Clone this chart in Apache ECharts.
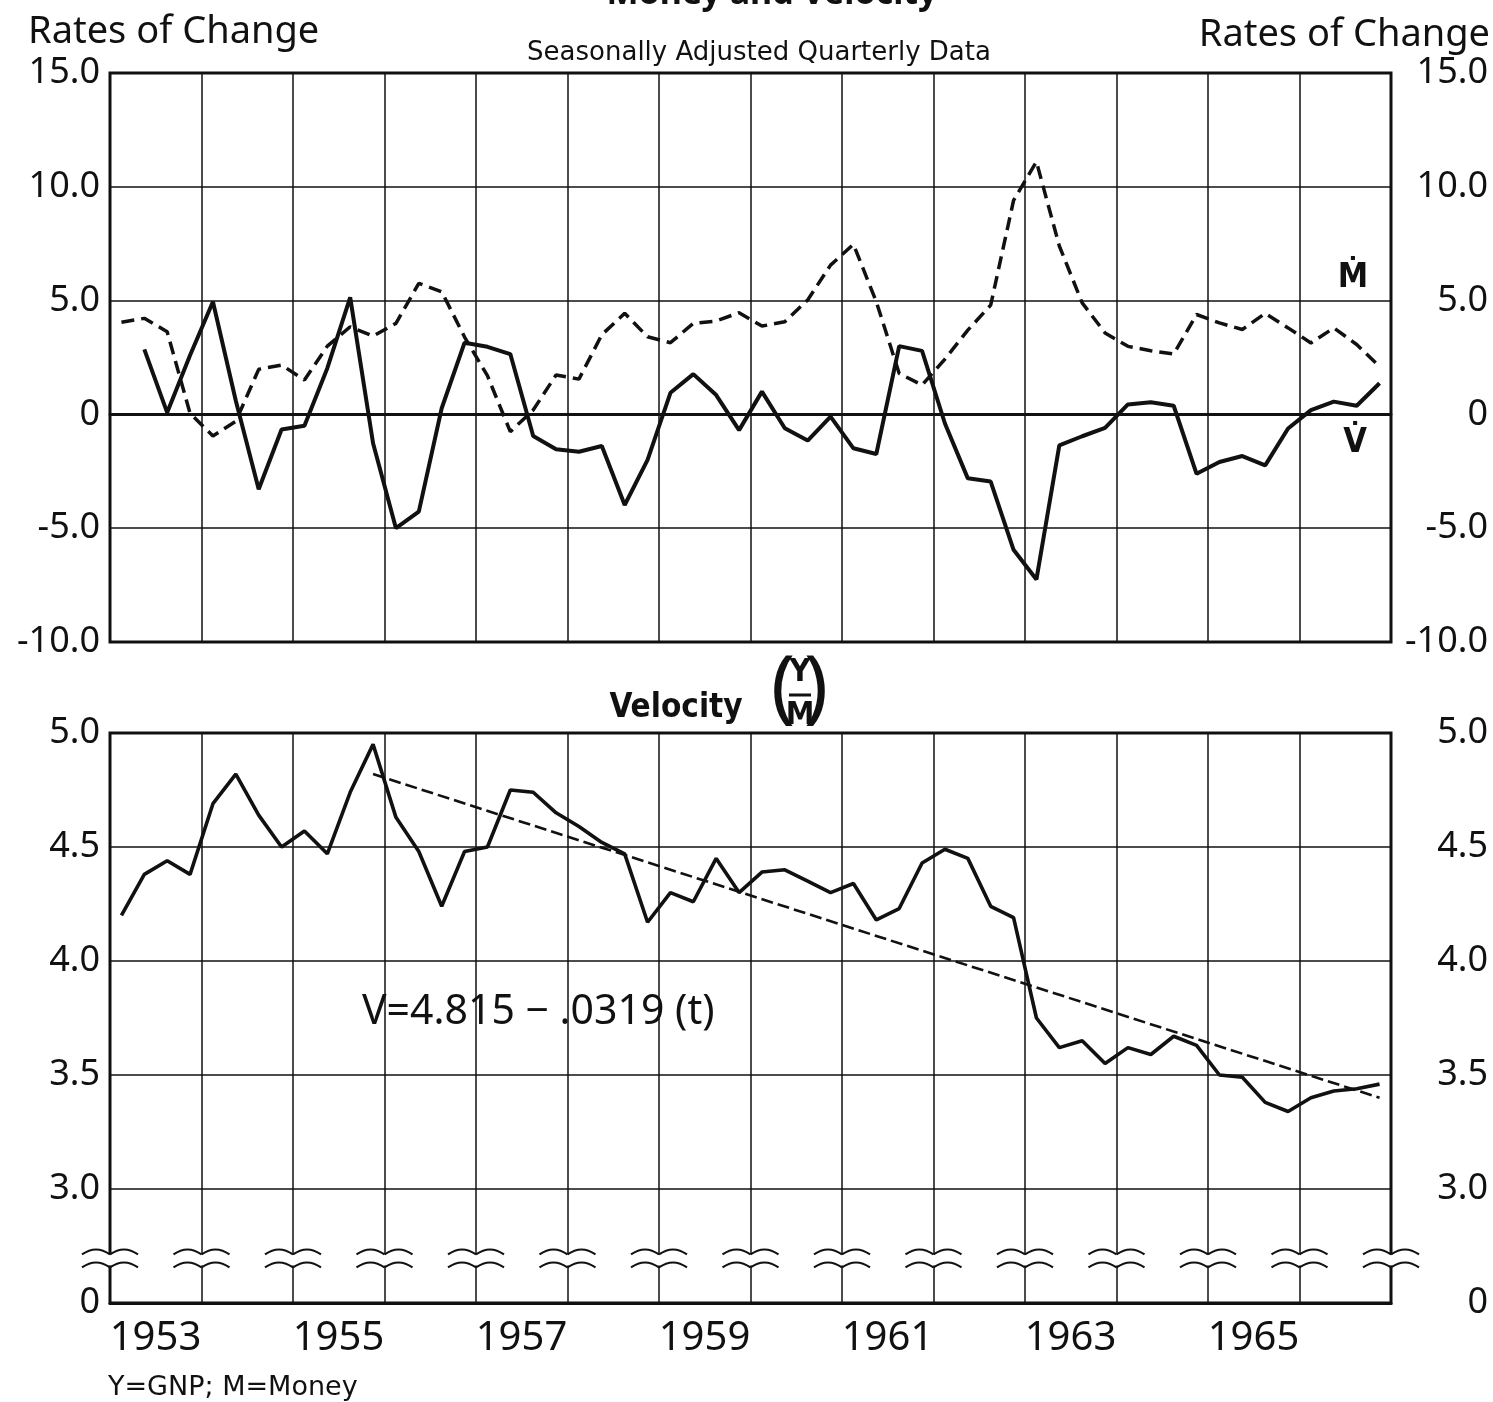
<!DOCTYPE html>
<html>
<head>
<meta charset="utf-8">
<script src="https://cdn.jsdelivr.net/npm/echarts@6/dist/echarts.min.js"></script>
<style>
  html, body { margin: 0; padding: 0; background: #fff; }
  #chart { width: 1493px; height: 1402px; }
</style>
</head>
<body>
<div id="chart"></div>
<script>
// quarterly data, 1953 Q1 .. 1966 Q4
const firstYear = 1953;
const lastYear = 1966;
const yearLabels = ['1953', '1955', '1957', '1959', '1961', '1963', '1965'];

const rateTicks = [-10, -5, 0, 5, 10, 15];
const rateTickLabels = ['-10.0', '-5.0', '0', '5.0', '10.0', '15.0'];
const velocityTicks = [2.5, 3.0, 3.5, 4.0, 4.5, 5.0];
const velocityTickLabels = ['0', '3.0', '3.5', '4.0', '4.5', '5.0'];

// rate of change of money (M dot), dashed
const moneyRate = [
  4.05, 4.22, 3.63, 0.05,
  -0.95, -0.3, 1.98, 2.17,
  1.51, 3.0, 3.85, 3.44,
  4.0, 5.76, 5.39, 3.4,
  1.7, -0.76, 0.19, 1.73,
  1.55, 3.5, 4.44, 3.41,
  3.15, 4.0, 4.1, 4.47,
  3.88, 4.07, 5.03, 6.56,
  7.47, 4.95, 1.8, 1.29,
  2.43, 3.7, 4.8, 9.4,
  11.1, 7.4, 4.9, 3.58,
  2.99, 2.8, 2.65, 4.39,
  4.02, 3.73, 4.44, 3.8,
  3.14, 3.8, 3.07, 2.1
];

// rate of change of velocity (V dot), solid; starts 1953 Q2
const velocityRate = [
  null, 2.86, 0.08, 2.6,
  4.95, 0.6, -3.29, -0.66,
  -0.5, 2.03, 5.14, -1.27,
  -5.0, -4.27, 0.27, 3.15,
  2.97, 2.65, -0.95, -1.53,
  -1.64, -1.39, -3.98, -2.0,
  0.95, 1.77, 0.85, -0.69,
  1.0, -0.61, -1.15, -0.1,
  -1.49, -1.74, 3.0, 2.79,
  -0.4, -2.81, -2.95, -5.95,
  -7.25, -1.36, -0.96, -0.59,
  0.44, 0.53, 0.38, -2.61,
  -2.09, -1.83, -2.24, -0.62,
  0.19, 0.56, 0.38, 1.37
];

// velocity Y/M
const velocity = [
  4.20, 4.38, 4.44, 4.38,
  4.69, 4.82, 4.64, 4.50,
  4.57, 4.47, 4.74, 4.95,
  4.63, 4.48, 4.24, 4.48,
  4.50, 4.75, 4.74, 4.65,
  4.59, 4.52, 4.47, 4.17,
  4.30, 4.26, 4.45, 4.30,
  4.39, 4.40, 4.35, 4.30,
  4.34, 4.18, 4.23, 4.43,
  4.49, 4.45, 4.24, 4.19,
  3.75, 3.62, 3.65, 3.55,
  3.62, 3.59, 3.67, 3.63,
  3.50, 3.49, 3.38, 3.34,
  3.40, 3.43, 3.44, 3.46
];

// trend V = 4.815 - .0319 (t), end points (1955 Q4 .. 1966 Q4)
const trendQuarters = [11, 55];
const trendValues = [4.82, 3.40];

const breakLevel = 2.70; // where the broken-axis marks sit

const font = 'Noto Sans';
const ink = '#111';

function qx(i) { return firstYear + (i + 0.5) / 4; }
function pairs(arr) {
  return arr.map((v, i) => [qx(i), v]).filter(p => p[1] !== null);
}
function tickText(ticks, labels) {
  return v => {
    const k = ticks.findIndex(t => Math.abs(t - v) < 1e-6);
    return k < 0 ? '' : labels[k];
  };
}

const breakYears = [];
for (let y = firstYear; y <= lastYear + 1; y++) breakYears.push([y, breakLevel]);

const chart = echarts.init(document.getElementById('chart'));

function xAxisBase(gridIndex) {
  return {
    type: 'value', gridIndex: gridIndex,
    min: firstYear, max: lastYear + 1, interval: 1,
    axisTick: { show: false },
    splitLine: { show: true, lineStyle: { color: ink, width: 1.5 } },
    axisLine: { show: true, lineStyle: { color: ink, width: 3 } }
  };
}
function yAxisBase(gridIndex, pos, min, max, interval, fmt, right) {
  return {
    type: 'value', gridIndex: gridIndex, position: pos,
    min: min, max: max, interval: interval,
    axisLine: { show: false },
    axisTick: { show: false },
    splitLine: { show: !right, lineStyle: { color: ink, width: 1.5 } },
    axisLabel: {
      formatter: fmt,
      fontFamily: font, fontSize: 36, color: ink,
      margin: right ? 97 : 10,
      align: 'right'
    }
  };
}

const rateFmt = tickText(rateTicks, rateTickLabels);
const velFmt = tickText(velocityTicks, velocityTickLabels);

const option = {
  backgroundColor: '#fff',
  animation: false,
  grid: [
    { left: 110, right: 102, top: 73, height: 569, show: true, borderColor: ink, borderWidth: 3, backgroundColor: 'transparent' },
    { left: 110, right: 102, top: 733, height: 570, show: true, borderColor: ink, borderWidth: 3, backgroundColor: 'transparent' }
  ],
  xAxis: [
    Object.assign(xAxisBase(0), {
      axisLabel: { show: false },
      axisLine: { show: true, onZero: true, lineStyle: { color: ink, width: 2.8 } }
    }),
    Object.assign(xAxisBase(1), {
      axisLabel: {
        margin: 16,
        formatter: v => yearLabels.includes(String(v)) ? '{y|' + v + '}' : '',
        rich: { y: { fontFamily: font, fontSize: 40, color: ink, padding: [0, 0, 0, 91] } }
      }
    })
  ],
  yAxis: [
    yAxisBase(0, 'left', -10, 15, 5, rateFmt, false),
    yAxisBase(0, 'right', -10, 15, 5, rateFmt, true),
    yAxisBase(1, 'left', 2.5, 5, 0.5, velFmt, false),
    yAxisBase(1, 'right', 2.5, 5, 0.5, velFmt, true)
  ],
  series: [
    {
      name: 'M dot', type: 'line', xAxisIndex: 0, yAxisIndex: 0,
      data: pairs(moneyRate), symbol: 'none',
      lineStyle: { color: ink, width: 3.5, type: [13, 7] }
    },
    {
      name: 'V dot', type: 'line', xAxisIndex: 0, yAxisIndex: 0,
      data: pairs(velocityRate), symbol: 'none',
      lineStyle: { color: ink, width: 4 }
    },
    {
      name: 'Velocity', type: 'line', xAxisIndex: 1, yAxisIndex: 2,
      data: pairs(velocity), symbol: 'none',
      lineStyle: { color: ink, width: 3.6 }
    },
    {
      name: 'Trend', type: 'line', xAxisIndex: 1, yAxisIndex: 2,
      data: trendQuarters.map((q, k) => [qx(q), trendValues[k]]), symbol: 'none',
      lineStyle: { color: ink, width: 2.6, type: [12, 5] }
    },
    {
      name: 'breaks', type: 'custom', xAxisIndex: 1, yAxisIndex: 2,
      data: breakYears, silent: true, clip: false, z: 5,
      renderItem: function (params, api) {
        const p = api.coord([api.value(0), api.value(1)]);
        const x = p[0], y = p[1];
        const st = { stroke: ink, lineWidth: 2, fill: null };
        function wave(b) {
          return [
            { type: 'bezierCurve', shape: { x1: x - 28, y1: b, x2: x, y2: b, cpx1: x - 14, cpy1: b - 10 }, style: st },
            { type: 'bezierCurve', shape: { x1: x, y1: b, x2: x + 28, y2: b, cpx1: x + 14, cpy1: b - 10 }, style: st }
          ];
        }
        return {
          type: 'group',
          children: [
            { type: 'rect', shape: { x: x - 4, y: y - 3, width: 8, height: 11 }, style: { fill: '#fff' } }
          ].concat(wave(y - 3), wave(y + 10))
        };
      }
    }
  ],
  graphic: [
    { type: 'text', x: 772, y: 11, style: { text: 'Money and Velocity', font: 'bold 34px "Noto Sans"', fill: ink, align: 'center', verticalAlign: 'bottom' } },
    { type: 'text', x: 759, y: 53, style: { text: 'Seasonally Adjusted Quarterly Data', font: '26px "DejaVu Sans"', fill: ink, align: 'center', verticalAlign: 'middle' } },
    { type: 'text', x: 28, y: 32, style: { text: 'Rates of Change', font: '38px "Noto Sans"', fill: ink, align: 'left', verticalAlign: 'middle' } },
    { type: 'text', x: 1490, y: 35, style: { text: 'Rates of Change', font: '38px "Noto Sans"', fill: ink, align: 'right', verticalAlign: 'middle' } },
    { type: 'text', x: 1353, y: 278, style: { text: 'Ṁ', font: 'bold 34px "DejaVu Sans Condensed"', fill: ink, align: 'center', verticalAlign: 'middle' } },
    { type: 'text', x: 1355, y: 443, style: { text: 'V̇', font: 'bold 34px "DejaVu Sans Condensed"', fill: ink, align: 'center', verticalAlign: 'middle' } },
    { type: 'text', x: 676, y: 708, style: { text: 'Velocity', font: 'bold 33px "DejaVu Sans Condensed"', fill: ink, align: 'center', verticalAlign: 'middle' } },
    { type: 'text', x: 783, y: 690, style: { text: '(', font: '80px "Noto Sans"', fill: ink, align: 'center', verticalAlign: 'middle' } },
    { type: 'text', x: 816, y: 690, style: { text: ')', font: '80px "Noto Sans"', fill: ink, align: 'center', verticalAlign: 'middle' } },
    { type: 'text', x: 800, y: 673, style: { text: 'Y', font: 'bold 32px "DejaVu Sans Condensed"', fill: ink, align: 'center', verticalAlign: 'middle' } },
    { type: 'line', shape: { x1: 789, y1: 695, x2: 811, y2: 695 }, style: { stroke: ink, lineWidth: 3 } },
    { type: 'text', x: 800, y: 716, style: { text: 'M', font: 'bold 32px "DejaVu Sans Condensed"', fill: ink, align: 'center', verticalAlign: 'middle' } },
    { type: 'text', x: 362, y: 1012, style: { text: 'V=4.815 − .0319 (t)', font: '41px "Noto Sans"', fill: ink, align: 'left', verticalAlign: 'middle' } },
    { type: 'text', x: 108, y: 1388, style: { text: 'Y=GNP; M=Money', font: '27px "DejaVu Sans"', fill: ink, align: 'left', verticalAlign: 'middle' } }
  ]
};

chart.setOption(option);
</script>
</body>
</html>
